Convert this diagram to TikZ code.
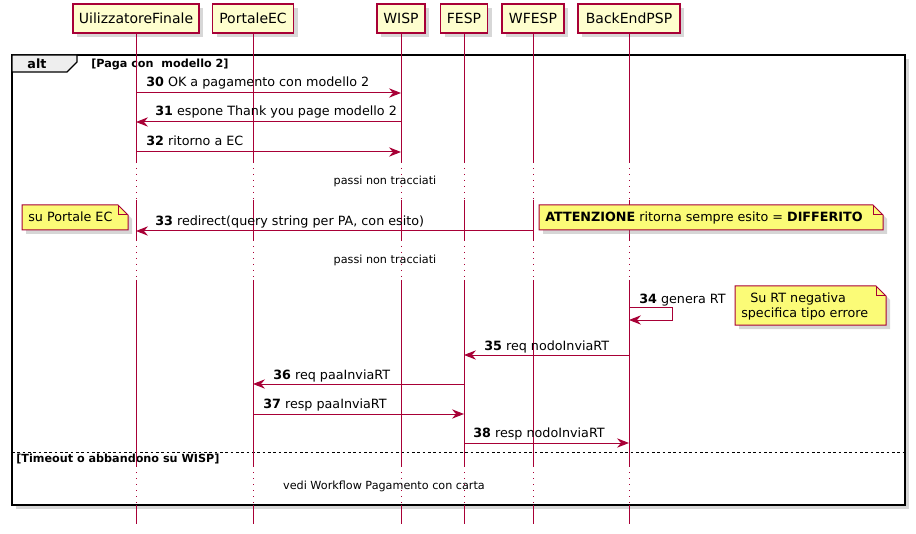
\documentclass[tikz,border=0pt]{standalone}
\usepackage{fontspec}
\setmainfont{DejaVu Sans}
\usetikzlibrary{arrows.meta,shadows}
\definecolor{crim}{HTML}{A80036}
\definecolor{partfill}{HTML}{FEFECE}
\definecolor{notefill}{HTML}{FBFB77}
\definecolor{tabfill}{HTML}{EEEEEE}
\newcommand\fMsg{\fontsize{9.55}{11.5}\selectfont}
\newcommand\fSmall{\fontsize{8.4}{10}\selectfont}
\newcommand\fPart{\fontsize{10.5}{12}\selectfont}
\newcommand\noteshape[4]{%
  \draw[notebox] (#1,#2) -- ({#3-10},#2) -- (#3,{#2+10}) -- (#3,#4) -- (#1,#4) -- cycle;
  \draw[draw=crim,line width=0.75pt] ({#3-10},#2) -- ({#3-10},{#2+10}) -- (#3,{#2+10});
}
\begin{document}
\begin{tikzpicture}[x=0.75pt,y=-0.75pt,
  partbox/.style={draw=crim,line width=1.1pt,fill=partfill,minimum height=21.75pt,
    minimum width=#1,inner sep=0pt,font=\fPart,
    drop shadow={shadow xshift=3pt,shadow yshift=-3pt,fill=black!45,opacity=0.35}},
  life/.style={draw=crim,line width=0.75pt},
  lifedot/.style={draw=crim,line width=0.75pt,dash pattern=on 0.75pt off 3.75pt},
  msg/.style={draw=crim,line width=0.75pt,-{Stealth[length=9pt,width=7pt,inset=3pt]}},
  mlabel/.style={anchor=base west,inner sep=0pt,font=\fMsg},
  divtext/.style={inner sep=0pt,font=\fSmall},
  notebox/.style={draw=crim,line width=0.75pt,fill=notefill,
    drop shadow={shadow xshift=3pt,shadow yshift=-3pt,fill=black!45,opacity=0.35}},
  ntext/.style={anchor=base west,inner sep=0pt,font=\fMsg}]
\useasboundingbox (0,0) rectangle (916,534);

% participants
\node[partbox=94.5pt] (ue) at (136,18.5) {UilizzatoreFinale};
\node[partbox=60.75pt] (pec) at (253,18.5) {PortaleEC};
\node[partbox=36pt] (wisp) at (401,18.5) {WISP};
\node[partbox=35.25pt] (fesp) at (464,18.5) {FESP};
\node[partbox=46.5pt] (wfesp) at (533,18.5) {WFESP};
\node[partbox=76.5pt] (bep) at (629,18.5) {BackEndPSP};

% alt frame
\draw[line width=1.3pt,drop shadow={shadow xshift=3pt,shadow yshift=-3pt,fill=black!45,opacity=0.35},fill=white] (12,55) rectangle (905,505);
\filldraw[fill=tabfill,draw=black,line width=0.9pt] (12,55) -- (77,55) -- (77,62) -- (67,72) -- (12,72) -- cycle;
\node[font=\fMsg\bfseries,inner sep=0pt] (alt) at (37,63.5) {alt};
\node[font=\fSmall\bfseries,anchor=west,inner sep=0pt] (guard1) at (91,64) {[Paga con\ \ modello 2]};
\draw[black,line width=0.75pt,dash pattern=on 2pt off 2pt] (12,452) -- (905,452);
\node[font=\fSmall\bfseries,anchor=west,inner sep=0pt] (guard2) at (16,459) {[Timeout o abbandono su WISP]};

% lifelines
\foreach \p in {ue,pec,wisp,fesp,wfesp,bep}{
  \draw[life] (\p.south) -- (\p |- 0,162);
  \draw[lifedot] (\p |- 0,162) -- (\p |- 0,200);
  \draw[life] (\p |- 0,200) -- (\p |- 0,240);
  \draw[lifedot] (\p |- 0,240) -- (\p |- 0,280);
  \draw[life] (\p |- 0,280) -- (\p |- 0,466);
  \draw[lifedot] (\p |- 0,466) -- (\p |- 0,505);
  \draw[life] (\p |- 0,505) -- (\p |- 0,524);
}

% messages
\draw[msg] (ue |- 0,93) -- (wisp |- 0,93);
\node[mlabel] (l30) at (146,87) {\textbf{30} OK a pagamento con modello 2};
\draw[msg] (wisp |- 0,122) -- (ue |- 0,122);
\node[mlabel] (l31) at (155,116) {\textbf{31} espone Thank you page modello 2};
\draw[msg] (ue |- 0,152) -- (wisp |- 0,152);
\node[mlabel] (l32) at (146,146) {\textbf{32} ritorno a EC};

\node[divtext] (d1) at (385,181) {passi non tracciati};

\draw[msg] (wfesp |- 0,231) -- (ue |- 0,231);
\node[mlabel] (l33) at (155,226) {\textbf{33} redirect(query string per PA, con esito)};

\node[divtext] (d2) at (385,260) {passi non tracciati};

\draw[msg] (bep |- 0,307) -- (672,307) -- (672,320) -- (bep |- 0,320);
\node[mlabel] (l34) at (639,303) {\textbf{34} genera RT};

\draw[msg] (bep |- 0,355) -- (fesp |- 0,355);
\node[mlabel] (l35) at (484,350) {\textbf{35} req nodoInviaRT};
\draw[msg] (fesp |- 0,384) -- (pec |- 0,384);
\node[mlabel] (l36) at (273,379) {\textbf{36} req paaInviaRT};
\draw[msg] (pec |- 0,414) -- (fesp |- 0,414);
\node[mlabel] (l37) at (263,408) {\textbf{37} resp paaInviaRT};
\draw[msg] (fesp |- 0,443) -- (bep |- 0,443);
\node[mlabel] (l38) at (473,437) {\textbf{38} resp nodoInviaRT};

\node[divtext] (d3) at (384,486) {vedi Workflow Pagamento con carta};

% notes
\noteshape{22}{205}{128}{230}
\node[ntext] (n1) at (28,222) {su Portale EC};
\noteshape{539}{205}{883}{230}
\node[ntext] (n2) at (545,222) {\textbf{ATTENZIONE} ritorna sempre esito = \textbf{DIFFERITO}};
\noteshape{735}{286}{886}{325}
\node[ntext] (n3a) at (750,302) {Su RT negativa};
\node[ntext] (n3b) at (741,317) {specifica tipo errore};
\end{tikzpicture}
\end{document}
